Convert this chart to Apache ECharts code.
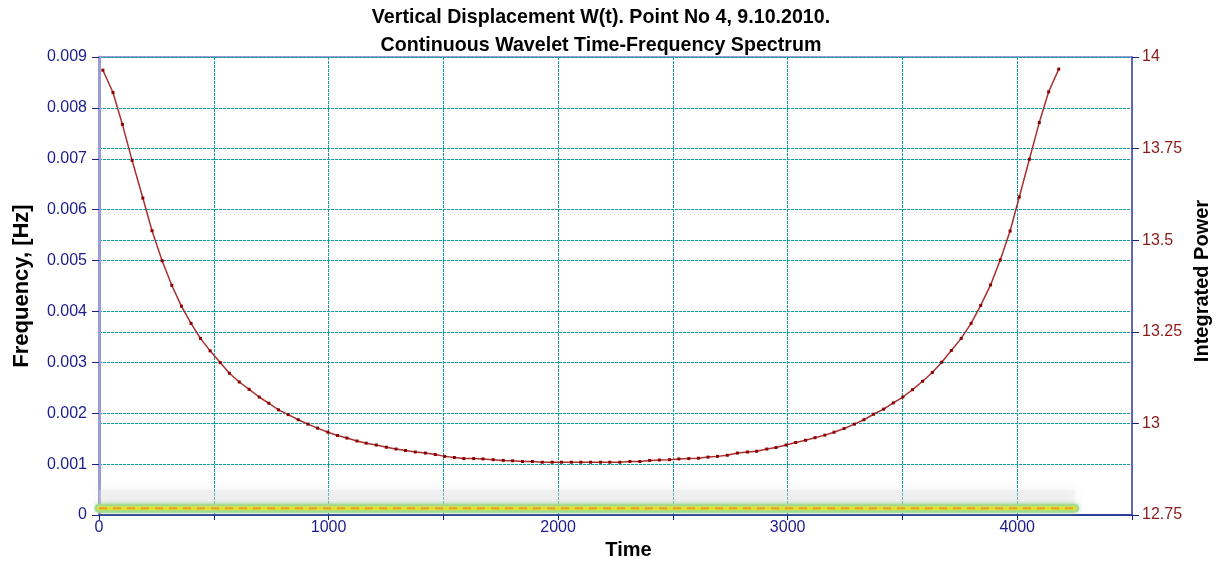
<!DOCTYPE html>
<html>
    <head>
        <meta charset="utf-8">
        <title>Continuous Wavelet Time-Frequency Spectrum</title>
        <script src="https://cdn.jsdelivr.net/npm/echarts@6/dist/echarts.min.js"></script>
        <style>
            html, body { margin: 0; padding: 0; background: #fff; }
        </style>
    </head>
    <body>
        <div id="chart1" style="width: 1223px;height: 561px"></div>

    <script type="text/javascript">

        // integrated power curve (right axis)
        var powerTime = [17, 61, 102, 144, 191, 231, 275, 317, 359, 401, 442, 484, 528, 568, 611, 654, 698, 740, 782, 824,
            868, 910, 952, 997, 1039, 1080, 1124, 1164, 1208, 1252, 1294, 1335, 1378, 1422, 1465, 1506, 1548, 1589, 1632, 1673,
            1717, 1761, 1802, 1845, 1888, 1931, 1974, 2015, 2058, 2099, 2141, 2185, 2225, 2269, 2313, 2356, 2399, 2441, 2485, 2526,
            2569, 2611, 2653, 2694, 2737, 2781, 2825, 2865, 2909, 2949, 2993, 3035, 3078, 3119, 3162, 3202, 3246, 3291, 3332, 3374,
            3418, 3460, 3502, 3544, 3588, 3630, 3671, 3713, 3756, 3799, 3841, 3884, 3926, 3969, 4009, 4053, 4096, 4137, 4181];
        var powerValue = [13.964, 13.903, 13.816, 13.718, 13.615, 13.526, 13.444, 13.377, 13.320, 13.273, 13.232, 13.198, 13.166, 13.137, 13.113, 13.093, 13.072, 13.055, 13.037, 13.024,
            13.010, 12.998, 12.987, 12.976, 12.967, 12.960, 12.952, 12.946, 12.941, 12.935, 12.930, 12.926, 12.922, 12.919, 12.915, 12.910, 12.907, 12.904, 12.904, 12.903,
            12.901, 12.899, 12.898, 12.896, 12.896, 12.894, 12.894, 12.894, 12.894, 12.894, 12.894, 12.894, 12.894, 12.894, 12.896, 12.896, 12.899, 12.900, 12.901, 12.903,
            12.904, 12.905, 12.908, 12.910, 12.913, 12.919, 12.922, 12.924, 12.930, 12.934, 12.941, 12.948, 12.954, 12.961, 12.968, 12.976, 12.986, 12.998, 13.010, 13.025,
            13.039, 13.056, 13.072, 13.092, 13.115, 13.139, 13.167, 13.199, 13.232, 13.273, 13.322, 13.378, 13.446, 13.525, 13.618, 13.721, 13.821, 13.905, 13.967];

        // spectrum ridge along the bottom (left axis)
        var bandTime = [0, 4250];
        var bandFreq = [0.000134, 0.000134];
        var hazeFreq = [0.00036, 0.00036];

        var freqTicks = [0, 0.009, 0.001];
        var powerTicks = [12.75, 14, 0.25];
        var timeTicks = [0, 4500, 500];

        function pairs(xs, ys) {
            return xs.map(function (x, i) { return [x, ys[i]]; });
        }

        var myChart1 = echarts.init(document.getElementById('chart1'));
        var navy = '#1c1c8c';
        var grid = { color: '#129e9e', type: [3, 1], width: 1 };
        var nameFont = { fontFamily: 'Arial', fontSize: 20, fontWeight: 'bold', color: '#000' };

        myChart1.setOption({
            animation: false,
            graphic: [{
                // title, drawn condensed like the original
                type: 'text',
                x: 601,
                y: 3,
                scaleX: 0.935,
                style: {
                    text: 'Vertical Displacement W(t). Point No 4, 9.10.2010.\nContinuous Wavelet Time-Frequency Spectrum',
                    font: 'bold 21px Arial',
                    lineHeight: 28,
                    align: 'center',
                    verticalAlign: 'top',
                    fill: '#000'
                }
            }],
            grid: {
                left: 99, right: 91, top: 57, bottom: 46,
                outerBoundsMode: 'none',
                containLabel: false,
                show: true,
                borderColor: '#9c9cd4',
                borderWidth: 2
            },
            xAxis: {
                type: 'value',
                min: timeTicks[0], max: timeTicks[1], interval: timeTicks[2],
                name: 'Time',
                nameLocation: 'middle',
                nameGap: 22,
                nameTextStyle: Object.assign({ padding: [0, 0, 0, 26] }, nameFont),
                axisLine: { lineStyle: { color: navy, width: 1.5 } },
                axisTick: { show: true, length: 5, lineStyle: { color: navy } },
                axisLabel: {
                    color: navy, fontSize: 16, fontFamily: 'Arial', margin: 5,
                    formatter: function (v) { return v % 1000 === 0 ? String(v) : ''; }
                },
                splitLine: { show: true, lineStyle: grid }
            },
            yAxis: [{
                type: 'value',
                position: 'left',
                min: freqTicks[0], max: freqTicks[1], interval: freqTicks[2],
                name: 'Frequency, [Hz]',
                nameLocation: 'middle',
                nameRotate: 90,
                nameGap: 66,
                nameTextStyle: Object.assign({}, nameFont, { fontSize: 22 }),
                axisLine: { show: true, lineStyle: { color: '#9c9cd4', width: 3 } },
                axisTick: { show: true, length: 7, lineStyle: { color: navy } },
                axisLabel: {
                    color: navy, fontSize: 16, fontFamily: 'Arial', margin: 12,
                    formatter: function (v) { return v === 0 ? '0' : v.toFixed(3); }
                },
                splitLine: { show: true, lineStyle: grid }
            }, {
                type: 'value',
                position: 'right',
                min: powerTicks[0], max: powerTicks[1], interval: powerTicks[2],
                name: 'Integrated Power',
                nameLocation: 'middle',
                nameRotate: 90,
                nameGap: 58,
                nameTextStyle: Object.assign({ padding: [0, 0, 0, 10] }, nameFont),
                axisLine: { show: true, lineStyle: { color: '#5a5ab4', width: 1.5 } },
                axisTick: { show: true, length: 7, lineStyle: { color: navy } },
                axisLabel: { color: '#8b1a1a', fontSize: 16, fontFamily: 'Arial', margin: 10 },
                splitLine: { show: true, lineStyle: grid }
            }],
            series: [{
                name: 'haze',
                type: 'line',
                yAxisIndex: 0,
                data: pairs(bandTime, hazeFreq),
                showSymbol: false,
                silent: true,
                z: 1,
                lineStyle: { color: 'rgba(225,225,225,0.35)', width: 14, shadowBlur: 14, shadowColor: 'rgba(200,200,200,0.7)' }
            }, {
                name: 'green',
                type: 'line',
                yAxisIndex: 0,
                data: pairs(bandTime, bandFreq),
                showSymbol: false,
                silent: true,
                z: 1,
                lineStyle: { color: '#a3dc8e', width: 9, cap: 'round', shadowBlur: 5, shadowColor: 'rgba(130,200,130,0.7)' }
            }, {
                name: 'yellow',
                type: 'line',
                yAxisIndex: 0,
                data: pairs(bandTime, bandFreq),
                showSymbol: false,
                silent: true,
                z: 1,
                lineStyle: { color: '#dfe034', width: 4, cap: 'round' }
            }, {
                name: 'ridge',
                type: 'line',
                yAxisIndex: 0,
                data: pairs(bandTime, bandFreq),
                showSymbol: false,
                silent: true,
                z: 1,
                lineStyle: { color: '#e6a030', width: 2, type: [8, 6] }
            }, {
                name: 'Integrated Power',
                type: 'line',
                yAxisIndex: 1,
                data: pairs(powerTime, powerValue),
                symbol: 'rect',
                symbolSize: 3,
                itemStyle: { color: '#8b0000' },
                lineStyle: { color: '#a83030', width: 1.5 },
                z: 5
            }]
        });

    </script>
    </body>
</html>
